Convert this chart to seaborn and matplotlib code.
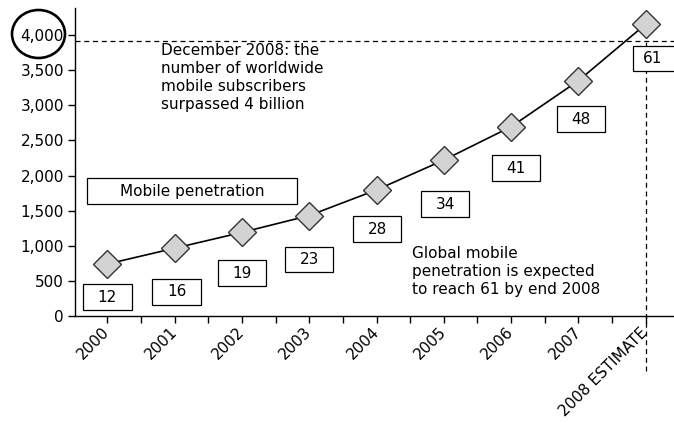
import numpy as np
import pandas as pd
import matplotlib
matplotlib.use("Agg")
import matplotlib.pyplot as plt
from matplotlib.patches import Rectangle, Ellipse
import seaborn as sns

# Worldwide mobile subscribers (millions) and penetration per 100 inhabitants
years = ["2000", "2001", "2002", "2003", "2004", "2005", "2006", "2007", "2008 ESTIMATE"]
subscribers = [740, 965, 1190, 1430, 1795, 2220, 2695, 3350, 4155]
penetration = [12, 16, 19, 23, 28, 34, 41, 48, 61]
yticks = [0, 500, 1000, 1500, 2000, 2500, 3000, 3500, 4000]
milestone = 3920  # 4 billion reference line

# label box placement (data coords)
box_dx = [0.0, 0.03, 0.0, 0.0, 0.01, 0.02, 0.07, 0.04, 0.17]
box_y = [270, 342, 612, 804, 1238, 1594, 2107, 2804, 3665]

sns.set_theme(style="white")
plt.rcParams["font.family"] = ["DejaVu Sans"]
plt.rcParams["text.color"] = "black"

df = pd.DataFrame({"pos": np.arange(len(years)), "subs": subscribers})

fig = plt.figure(figsize=(6.74, 4.23), dpi=100)
ax = fig.add_axes([75 / 674, 107 / 423, 599 / 674, 308 / 423])

sns.lineplot(data=df, x="pos", y="subs", ax=ax, color="black", linewidth=1.2,
             marker="D", markersize=14, markerfacecolor="#d3d3d3",
             markeredgecolor="#333333", markeredgewidth=1.0, zorder=5)

ax.set_xlim(-0.48, 8.42)
ax.set_ylim(0, 4385)
ax.set_xlabel("")
ax.set_ylabel("")

# category ticks plus boundary ticks
ax.set_xticks(np.arange(len(years)))
ax.set_xticklabels(years, rotation=45, ha="right", va="center",
                   rotation_mode="anchor", fontsize=11)
ax.set_xticks(np.arange(len(years) - 1) + 0.5, minor=True)
ax.set_yticks(yticks)
ax.set_yticklabels([f"{v:,}" for v in yticks], fontsize=11)
ax.tick_params(axis="both", which="both", direction="out", length=5, width=1,
               color="black", bottom=True, left=True, pad=3, labelcolor="black")
ax.tick_params(axis="x", pad=5)

for s in ["top", "right"]:
    ax.spines[s].set_visible(False)
for s in ["left", "bottom"]:
    ax.spines[s].set_color("black")
    ax.spines[s].set_linewidth(1.0)

# reference lines
ax.axhline(milestone, color="black", linestyle=(0, (4, 3)), linewidth=0.9, zorder=2)
ax.plot([8, 8], [-0.18 * 4385, 4100], color="black", linestyle=(0, (4, 3)),
        linewidth=0.9, clip_on=False, zorder=2)

# penetration boxes
bw, bh = 0.72, 365
for i, (p, dx, yc) in enumerate(zip(penetration, box_dx, box_y)):
    xc = i + dx
    ax.add_patch(Rectangle((xc - bw / 2, yc - bh / 2), bw, bh, facecolor="white",
                           edgecolor="black", linewidth=0.9, clip_on=False, zorder=3))
    tx = xc if i < len(penetration) - 1 else xc - 0.07
    ax.text(tx, yc, str(p), ha="center", va="center", fontsize=11, zorder=4)

# legend-like label
ax.add_patch(Rectangle((1.26 - 1.56, 1779 - 185), 3.12, 370, facecolor="white",
                       edgecolor="black", linewidth=0.9, zorder=3))
ax.text(1.26, 1779, "Mobile penetration", ha="center", va="center", fontsize=11, zorder=4)

ax.text(0.80, 3880, "December 2008: the\nnumber of worldwide\nmobile subscribers\nsurpassed 4 billion",
        ha="left", va="top", fontsize=11, linespacing=1.25, zorder=4)
ax.text(4.52, 995, "Global mobile\npenetration is expected\nto reach 61 by end 2008",
        ha="left", va="top", fontsize=11, linespacing=1.25, zorder=4)

# highlight the 4,000 tick label
fig.patches.append(Ellipse((38.5 / 674, 1 - 34 / 423), 53 / 674, 48 / 423,
                           transform=fig.transFigure, fill=False,
                           edgecolor="black", linewidth=1.9))

fig.savefig("out.png", dpi=100)
